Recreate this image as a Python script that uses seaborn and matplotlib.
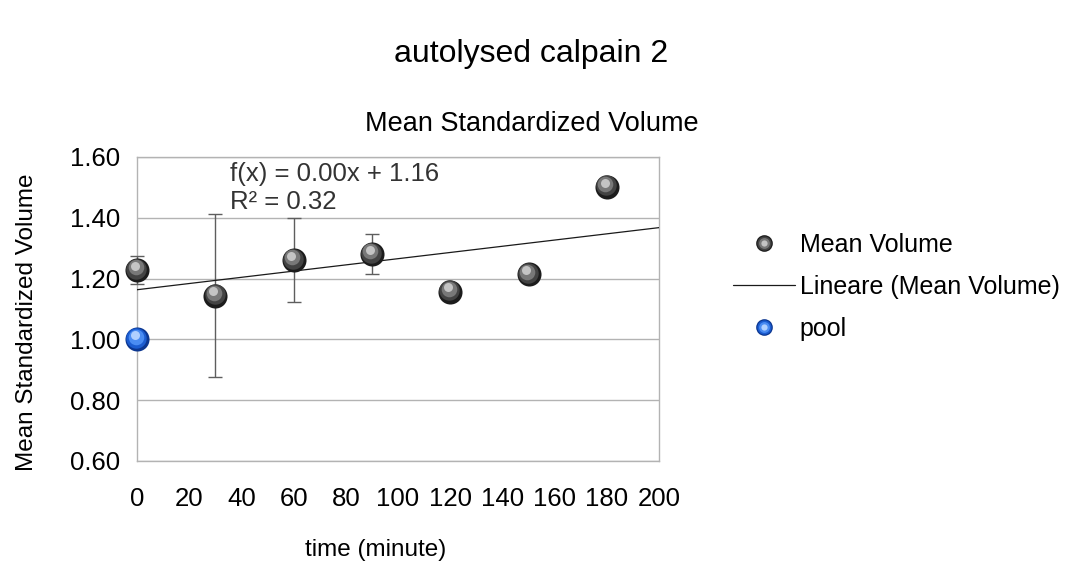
#!/usr/bin/env python3
"""Mean standardized volume of autolysed calpain 2 over time."""
import matplotlib
matplotlib.use("Agg")
import matplotlib.pyplot as plt
from matplotlib.lines import Line2D
from matplotlib.legend_handler import HandlerTuple
from matplotlib.transforms import offset_copy
import seaborn as sns

# data
TIME = [0, 30, 60, 90, 120, 150, 180]
MEAN_VOLUME = [1.228, 1.144, 1.261, 1.281, 1.157, 1.214, 1.502]
VOLUME_ERR = [0.046, 0.269, 0.139, 0.066, 0.0, 0.0, 0.0]
POOL_TIME = [0]
POOL_VOLUME = [1.00]
Y_TICKS = [0.60, 0.80, 1.00, 1.20, 1.40, 1.60]
X_TICKS = [0, 20, 40, 60, 80, 100, 120, 140, 160, 180, 200]
FIT_TEXT = "f(x) = 0.00x + 1.16\nR² = 0.32"

GRAY_SHADES = ["#1c1c1c", "#434343", "#787878", "#c4c4c4"]
BLUE_SHADES = ["#0b3690", "#1b5cd0", "#4a8cf2", "#b0d0ff"]
LAYERS = [(1.0, 0.0, 0.0), (0.72, -0.6, 1.0), (0.42, -1.1, 2.0), (0.14, -1.6, 3.0)]

sns.set_style("white")
plt.rcParams["font.family"] = ["Liberation Sans", "DejaVu Sans"]
plt.rcParams["text.color"] = "black"
plt.rcParams["axes.labelcolor"] = "black"


def draw_spheres(ax, fig, x, y, shades, size):
    # fake a shaded sphere by stacking lighter, smaller dots shifted up-left
    for (scale, dx, dy), color in zip(LAYERS, shades):
        tr = offset_copy(ax.transData, fig=fig, x=dx, y=dy, units="points")
        sns.scatterplot(x=x, y=y, s=size * scale, color=color, linewidth=0,
                        transform=tr, clip_on=False, zorder=4, legend=False, ax=ax)


def sphere_handle(shades, ms):
    return tuple(Line2D([], [], ls="none", marker="o", markersize=ms * (sc ** 0.5),
                        markerfacecolor=c, markeredgewidth=0)
                 for (sc, _, _), c in zip(LAYERS, shades))


def main() -> None:
    fig = plt.figure(figsize=(10.8, 5.68), dpi=100)
    ax = fig.add_axes([0.1269, 0.1884, 0.4833, 0.5352])
    ax.set_xlim(0, 200)
    ax.set_ylim(0.60, 1.60)

    ax.errorbar(TIME, MEAN_VOLUME, yerr=VOLUME_ERR, fmt="none", ecolor="#5e5e5e",
                elinewidth=1.0, capsize=5, capthick=1.0, zorder=3, clip_on=False)
    sns.regplot(x=TIME, y=MEAN_VOLUME, scatter=False, ci=None, truncate=False,
                line_kws={"color": "#1a1a1a", "lw": 0.9, "zorder": 3}, ax=ax)
    draw_spheres(ax, fig, TIME, MEAN_VOLUME, GRAY_SHADES, 300)
    draw_spheres(ax, fig, POOL_TIME, POOL_VOLUME, BLUE_SHADES, 300)

    ax.set_xticks(X_TICKS)
    ax.set_yticks(Y_TICKS)
    ax.set_yticklabels([f"{v:.2f}" for v in Y_TICKS])
    ax.grid(axis="y", color="#b3b3b3", lw=1.0)
    ax.set_axisbelow(True)
    for side in ["left", "right", "bottom", "top"]:
        ax.spines[side].set_color("#b3b3b3")
        ax.spines[side].set_linewidth(1.0)
    ax.tick_params(axis="both", direction="out", length=7, width=1.0, color="#b3b3b3",
                   labelsize=18.5, labelcolor="#000000")
    ax.tick_params(axis="y", pad=5)
    ax.tick_params(axis="x", pad=12)

    ax.set_xlabel("time (minute)", fontsize=17.5)
    ax.xaxis.set_label_coords(0.458, -0.258)
    ax.set_ylabel("Mean Standardized Volume", fontsize=17.5)
    ax.yaxis.set_label_coords(-0.19, 0.457)

    ax.text(0.178, 0.985, FIT_TEXT, transform=ax.transAxes, ha="left", va="top",
            fontsize=18.5, color="#333333", linespacing=1.25)

    fig.text(0.492, 0.905, "autolysed calpain 2", ha="center", va="center", fontsize=23)
    fig.text(0.492, 0.782, "Mean Standardized Volume", ha="center", va="center", fontsize=19.5)

    handles = [sphere_handle(GRAY_SHADES, 12),
               Line2D([], [], color="#1a1a1a", lw=0.9),
               sphere_handle(BLUE_SHADES, 12)]
    labels = ["Mean Volume", "Lineare (Mean Volume)", "pool"]
    fig.legend(handles, labels, loc="center left", bbox_to_anchor=(0.679, 0.495),
               frameon=False, fontsize=18, handlelength=2.45, handletextpad=0.2,
               labelspacing=0.72, borderpad=0, borderaxespad=0,
               handler_map={tuple: HandlerTuple(ndivide=1)})

    fig.savefig("out.png", dpi=100)
    plt.close(fig)


if __name__ == "__main__":
    main()
